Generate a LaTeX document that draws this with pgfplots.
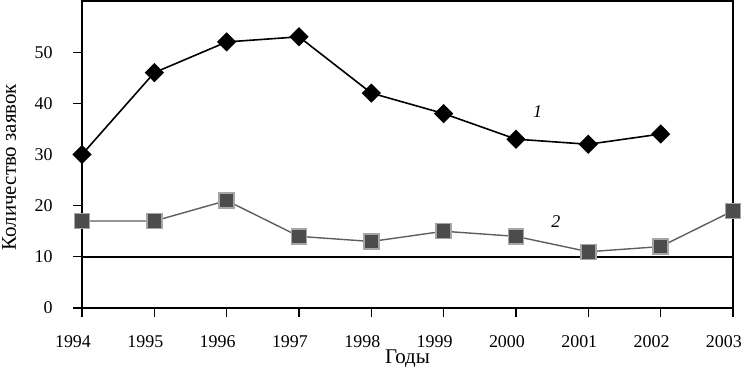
\documentclass[border=0pt]{standalone}
\usepackage{pgfplots}
\pgfplotsset{compat=1.18}
\usepackage{fontspec}
\setmainfont{Liberation Serif}
\definecolor{sqfill}{HTML}{4C4C4C}
\definecolor{sqline}{HTML}{5E5E5E}
\begin{document}
\begin{tikzpicture}
\path[use as bounding box] (-82bp,-65bp) rectangle (659bp,308bp);
\begin{axis}[
  at={(0,0)}, anchor=south west,
  scale only axis, width=651bp, height=307bp,
  xmin=1994, xmax=2003, ymin=0, ymax=60,
  xtick={1994,...,2003}, ytick={0,10,...,50},
  x tick label style={/pgf/number format/1000 sep={}},
  /pgf/number format/assume math mode=true,
  tick align=outside, tick pos=left,
  major tick length=9bp,
  axis line style={line width=1.5bp},
  major tick style={line width=1.2bp, black},
  tick label style={font=\fontsize{18}{21}\selectfont},
  label style={font=\fontsize{21}{24}\selectfont},
  xticklabel style={xshift=-9bp, yshift=-15bp},
  yticklabel style={xshift=-17bp},
  xlabel={Годы}, ylabel={Количество заявок},
  xlabel style={at={(axis description cs:0.5,0)}, anchor=base, yshift=-55bp},
  ylabel style={at={(axis description cs:-0.112,0.459)}, anchor=center},
  clip=false,
]
\addplot[black, line width=1.6bp, mark=diamond*, mark size=8.5bp, mark options={solid, fill=black, xscale=1.33}]
 coordinates {(1994,30)(1995,46)(1996,52)(1997,53)(1998,42)(1999,38)(2000,33)(2001,32)(2002,34)};
\addplot[sqline, line width=1.4bp, mark=square*, mark size=7.5bp, mark options={solid, fill=sqfill, draw=gray!70}]
 coordinates {(1994,17)(1995,17)(1996,21)(1997,14)(1998,13)(1999,15)(2000,14)(2001,11)(2002,12)(2003,19)};
\addplot[black, line width=1.6bp, no marks] coordinates {(1994,10)(2003,10)};
\node[font=\fontsize{18}{21}\selectfont\itshape] at (axis cs:2000.3,38.4) {1};
\node[font=\fontsize{18}{21}\selectfont\itshape] at (axis cs:2000.55,16.8) {2};
\end{axis}
\end{tikzpicture}
\end{document}
